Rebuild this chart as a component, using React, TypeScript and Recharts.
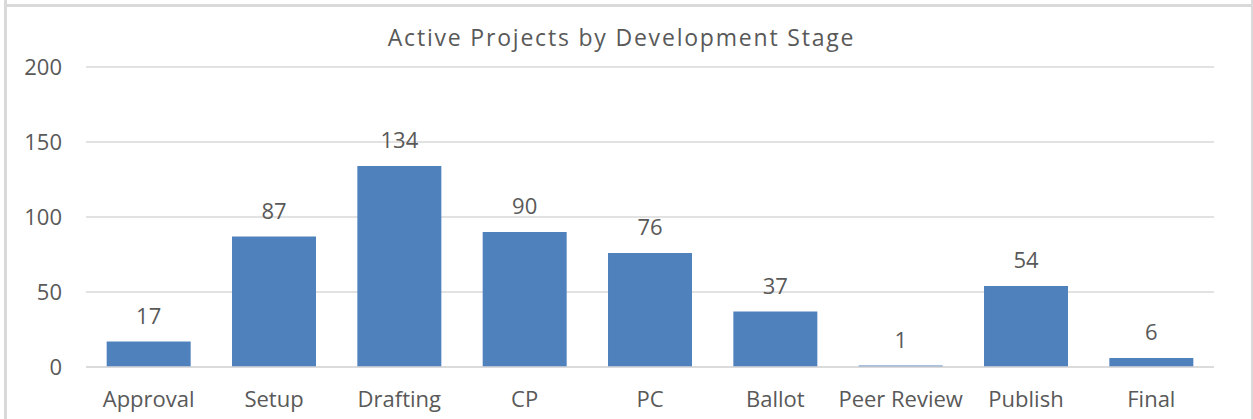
import React from 'react';
import { BarChart, Bar, XAxis, YAxis, CartesianGrid, LabelList } from 'recharts';

const categories = ['Approval', 'Setup', 'Drafting', 'CP', 'PC', 'Ballot', 'Peer Review', 'Publish', 'Final'];
const projects = [17, 87, 134, 90, 76, 37, 1, 54, 6];
const yTicks = [0, 50, 100, 150, 200];
const title = 'Active Projects by Development Stage';

const data = categories.map((c, i) => ({ stage: c, projects: projects[i] }));

const FONT = "'Open Sans', sans-serif";
const TEXT = '#595959';
const GRID = '#D9D9D9';

export default function App() {
  return (
    <div style={{ position: 'absolute', left: 0, top: 0, width: 1253, height: 419, background: '#fff', overflow: 'hidden' }}>
      <div style={{ position: 'absolute', left: 4, top: 0, width: 3, height: 419, background: GRID }} />
      <div style={{ position: 'absolute', left: 1251, top: 0, width: 2, height: 419, background: GRID }} />
      <div style={{ position: 'absolute', left: 7, top: 4, width: 1244, height: 3, background: GRID }} />
      <div
        style={{
          position: 'absolute',
          left: 0,
          width: 1253,
          top: 22,
          textAlign: 'center',
          fontFamily: FONT,
          fontSize: 23,
          letterSpacing: 1.8,
          color: TEXT,
          lineHeight: '30px',
          whiteSpace: 'nowrap',
        }}
      >
        <span style={{ position: 'relative', left: -5 }}>{title}</span>
      </div>
      <div style={{ position: 'absolute', left: 0, top: 0 }}>
        <BarChart
          width={1253}
          height={419}
          data={data}
          margin={{ top: 67, right: 39, left: 0, bottom: 22 }}
          barCategoryGap="16.5%"
        >
          <CartesianGrid vertical={false} stroke={GRID} strokeWidth={1.5} />
          <XAxis
            dataKey="stage"
            height={30}
            axisLine={{ stroke: GRID, strokeWidth: 1.5 }}
            tickLine={false}
            tickSize={0}
            tickMargin={24}
            interval={0}
            tick={{ fill: TEXT, fontFamily: FONT, fontSize: 22 }}
          />
          <YAxis
            width={86}
            domain={[0, 200]}
            ticks={yTicks}
            axisLine={false}
            tickLine={false}
            tickSize={0}
            tickMargin={24}
            tick={{ fill: TEXT, fontFamily: FONT, fontSize: 22 }}
          />
          <Bar dataKey="projects" fill="#4F81BD" isAnimationActive={false}>
            <LabelList
              dataKey="projects"
              position="top"
              offset={18}
              fill={TEXT}
              style={{ fontFamily: FONT, fontSize: 22 }}
            />
          </Bar>
        </BarChart>
      </div>
    </div>
  );
}
